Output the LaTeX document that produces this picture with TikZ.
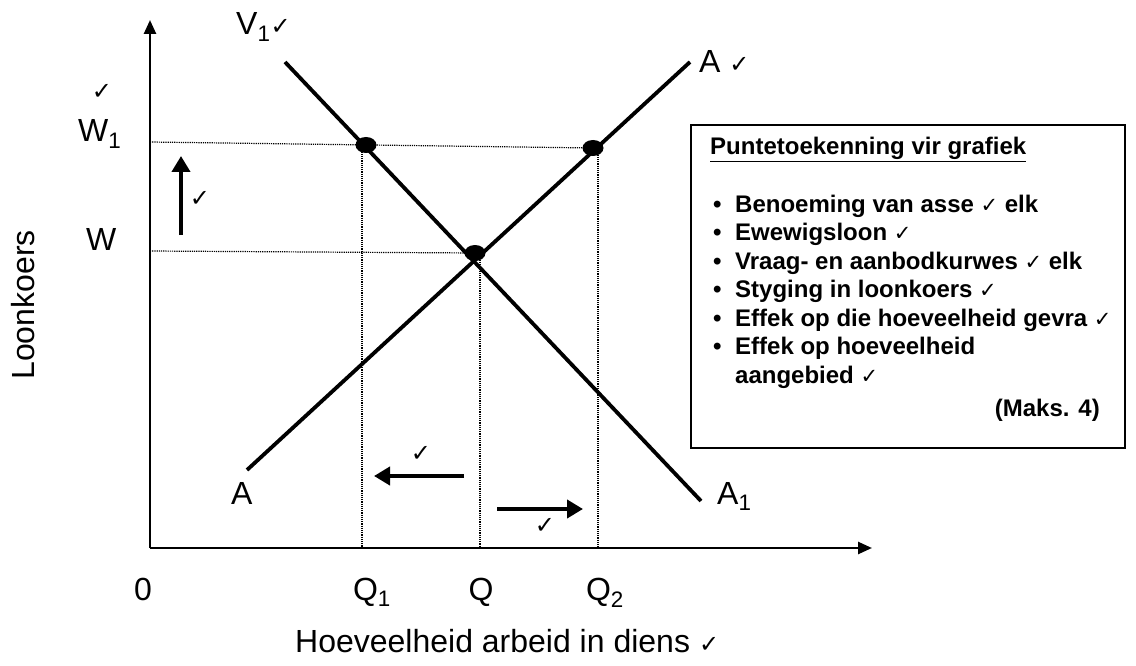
\documentclass[tikz,border=0pt]{standalone}
\usepackage{fontspec}
\setmainfont{Liberation Sans}
\newfontfamily\ckfont{DejaVu Sans}
\newcommand{\smallck}{{\fontsize{24}{24}\selectfont\ckfont ✓}}
\newcommand{\boxck}{{\fontsize{21}{21}\selectfont\mdseries\ckfont ✓}}
\usetikzlibrary{arrows.meta,shapes.geometric}
\begin{document}
\begin{tikzpicture}[x=1pt,y=-1pt,
  axisline/.style={line width=2.5pt,-{Triangle[length=14pt,width=12pt]}},
  curveline/.style={line width=3.8pt},
  guide/.style={densely dotted,line width=1.2pt},
  lbl/.style={font=\fontsize{32}{38}\selectfont,inner sep=0pt},
  cklbl/.style={font=\fontsize{24}{24}\selectfont\ckfont,inner sep=0pt},
  shiftarrow/.style={line width=4pt,-{Triangle[length=16pt,width=18pt]}},
  dotmark/.style={ellipse,fill=black,minimum width=21pt,minimum height=16pt,inner sep=0pt},
  boxtext/.style={font=\fontsize{24}{28}\selectfont\bfseries,inner sep=0pt,anchor=base west}]
\useasboundingbox (0,0) rectangle (1136,666);
% axes
\coordinate (O) at (150,548);
\coordinate (ytop) at (150,20);
\coordinate (xend) at (872,548);
\draw[axisline] (O) -- (ytop);
\draw[axisline] (O) -- (xend);
% curve end points
\coordinate (v1s) at (285,62);
\coordinate (v1e) at (701,501);
\coordinate (as) at (247,470);
\coordinate (ae) at (690,62);
% dots
\node[dotmark] (d1) at (366,145) {};
\node[dotmark] (d2) at (593,148) {};
\node[dotmark] (d3) at (475,253) {};
% guides
\coordinate (w1ax) at (150,142);
\coordinate (wax) at (150,251);
\coordinate (q1ax) at (362,548);
\coordinate (qax) at (480,548);
\coordinate (q2ax) at (598,548);
\coordinate (q1top) at (362,145);
\coordinate (qtop) at (480,253);
\coordinate (q2top) at (598,148);
\draw[guide] (w1ax) -- (d2.center);
\draw[guide] (wax) -- (d3.center);
\draw[guide] (q1top) -- (q1ax);
\draw[guide] (qtop) -- (qax);
\draw[guide] (q2top) -- (q2ax);
% curves
\draw[curveline] (v1s) -- (v1e);
\draw[curveline] (as) -- (ae);
% curve labels
\node[lbl,anchor=base west] (lv1) at (236,35) {V\textsubscript{1}\smallck};
\node[lbl,anchor=base west] (la2) at (699,73) {A \smallck};
\node[lbl,anchor=base west] (la) at (231,504) {A};
\node[lbl,anchor=base west] (la1) at (717,504) {A\textsubscript{1}};
% y labels
\node[cklbl] (ckw1) at (102,92) {✓};
\node[lbl,anchor=base west] (lw1) at (78,142) {W\textsubscript{1}};
\node[lbl,anchor=base west] (lw) at (86,250) {W};
\node[lbl,rotate=90,anchor=center] (lload) at (23,305) {Loonkoers};
% shift arrows
\coordinate (upS) at (181,235);
\coordinate (upE) at (181,156);
\draw[shiftarrow] (upS) -- (upE);
\node[cklbl] (ckup) at (200,199) {✓};
\coordinate (lfS) at (464,476);
\coordinate (lfE) at (374,476);
\draw[shiftarrow] (lfS) -- (lfE);
\node[cklbl] (cklf) at (421,454) {✓};
\coordinate (rtS) at (497,509);
\coordinate (rtE) at (583,509);
\draw[shiftarrow] (rtS) -- (rtE);
\node[cklbl] (ckrt) at (545,526) {✓};
% x labels
\node[lbl,anchor=base] (l0) at (143,600) {0};
\node[lbl,anchor=base] (lq1) at (372,600) {Q\textsubscript{1}};
\node[lbl,anchor=base] (lq) at (481,600) {Q};
\node[lbl,anchor=base] (lq2) at (605,600) {Q\textsubscript{2}};
\node[lbl,anchor=base west] (lx) at (295,652) {Hoeveelheid arbeid in diens \smallck};
% box
\node[draw,line width=1.8pt,minimum width=434pt,minimum height=323pt,inner sep=0pt,anchor=north west] (box) at (690,124) {};
\node[boxtext] (title) at (710,155) {\underline{Puntetoekenning vir grafiek}};
\node[boxtext] (b1) at (713,212) {\makebox[22pt][l]{•}Benoeming van asse \boxck{} elk};
\node[boxtext] (b2) at (713,240.5) {\makebox[22pt][l]{•}Ewewigsloon \boxck};
\node[boxtext] (b3) at (713,269) {\makebox[22pt][l]{•}Vraag- en aanbodkurwes \boxck{} elk};
\node[boxtext] (b4) at (713,297.5) {\makebox[22pt][l]{•}Styging in loonkoers \boxck};
\node[boxtext] (b5) at (713,326) {\makebox[22pt][l]{•}Effek op die hoeveelheid gevra \boxck};
\node[boxtext] (b6) at (713,354.5) {\makebox[22pt][l]{•}Effek op hoeveelheid};
\node[boxtext] (b7) at (735,383) {aangebied \boxck};
\node[boxtext,anchor=base east] (maks) at (1100,416) {(Maks. 4)};
\end{tikzpicture}
\end{document}
